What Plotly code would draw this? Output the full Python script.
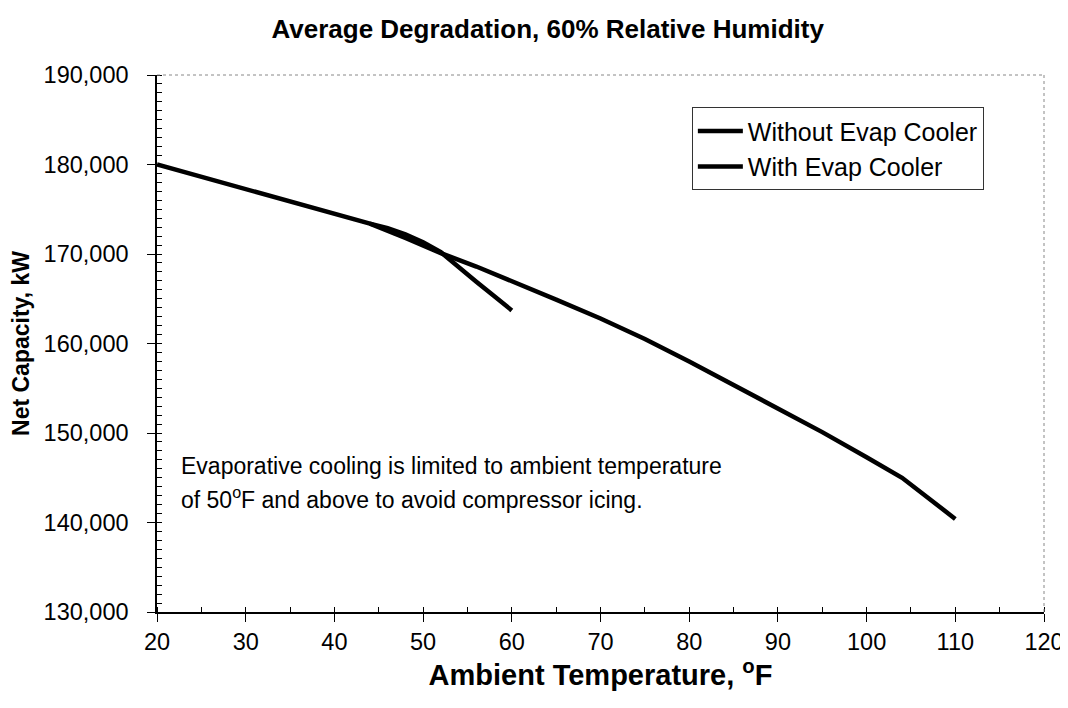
import plotly.graph_objects as go

# Data
temp_without = [20, 30, 40, 44, 48, 52, 56, 60, 65, 70, 75, 80, 85, 90, 95, 100, 104, 110]
cap_without = [180000, 177300, 174500, 173400, 171800, 170100, 168600, 167000, 164900, 162800,
               160500, 158000, 155400, 152800, 150100, 147300, 145000, 140400]

temp_with = [44, 46, 48, 50, 52, 54, 56, 58, 60]
cap_with = [173400, 172900, 172200, 171300, 170200, 168500, 166900, 165300, 163700]

FONT = "Liberation Sans, Arial, sans-serif"

fig = go.Figure()
fig.add_trace(go.Scatter(x=temp_without, y=cap_without, mode="lines",
                         name="Without Evap Cooler",
                         line=dict(color="black", width=4.5)))
fig.add_trace(go.Scatter(x=temp_with, y=cap_with, mode="lines",
                         name="With Evap Cooler",
                         line=dict(color="black", width=4.5)))

W, H = 1052, 692
fig.update_layout(
    width=W, height=H,
    margin=dict(l=149, r=16, t=67, b=88, autoexpand=False),
    paper_bgcolor="white", plot_bgcolor="white",
    font=dict(family=FONT, color="black"),
    title=dict(text="<b>Average Degradation, 60% Relative Humidity</b>",
               x=0.513, xanchor="center", y=1 - 21 / H, yanchor="middle", yref="container",
               font=dict(size=26, family=FONT, color="black")),
    showlegend=True,
    legend=dict(x=0.603, y=0.94, xanchor="left", yanchor="top",
                bgcolor="white", bordercolor="#333", borderwidth=1,
                font=dict(size=25, family=FONT, color="black"),
                tracegroupgap=0, itemwidth=45),
)

fig.update_xaxes(range=[20, 120], dtick=10, tick0=20, automargin=False,
                 showgrid=False, zeroline=False,
                 showline=True, linecolor="black", linewidth=1.5,
                 ticks="outside", ticklen=8, tickcolor="black", tickwidth=1,
                 tickfont=dict(size=23.5, family=FONT, color="black"),
                 ticklabeloverflow="allow",
                 minor=dict(dtick=5, ticks="inside", ticklen=5, tickcolor="black", showgrid=False),
                 title=dict(text="<b>Ambient Temperature, <sup>o</sup>F</b>",
                            font=dict(size=29, family=FONT, color="black"), standoff=0))
fig.update_yaxes(range=[130000, 190000], dtick=10000, tick0=130000, automargin=False,
                 tickformat=",",
                 showgrid=False, zeroline=False,
                 showline=True, linecolor="black", linewidth=1.5,
                 ticks="outside", ticklen=8, tickcolor="black", tickwidth=1,
                 tickfont=dict(size=23.5, family=FONT, color="black"),
                 ticklabelstandoff=14,
                 minor=dict(dtick=1000, ticks="inside", ticklen=5, tickcolor="black", showgrid=False),
                 title=dict(text="<b>Net Capacity, kW</b>",
                            font=dict(size=23, family=FONT, color="black"), standoff=8))

# gray top / right frame
fig.add_shape(type="line", xref="paper", yref="paper", x0=0, x1=1, y0=1, y1=1,
              line=dict(color="#888", width=1, dash="dot"))
fig.add_shape(type="line", xref="paper", yref="paper", x0=1, x1=1, y0=0, y1=1,
              line=dict(color="#888", width=1, dash="dot"))

fig.add_annotation(x=22.5, y=146300, xref="x", yref="y", xanchor="left", yanchor="middle",
                   showarrow=False,
                   text="Evaporative cooling is limited to ambient temperature",
                   font=dict(size=23, family=FONT, color="black"))
fig.add_annotation(x=22.5, y=142700, xref="x", yref="y", xanchor="left", yanchor="middle",
                   showarrow=False,
                   text="of 50<sup>o</sup>F and above to avoid compressor icing.",
                   font=dict(size=23, family=FONT, color="black"))

fig.write_html("out.html")
